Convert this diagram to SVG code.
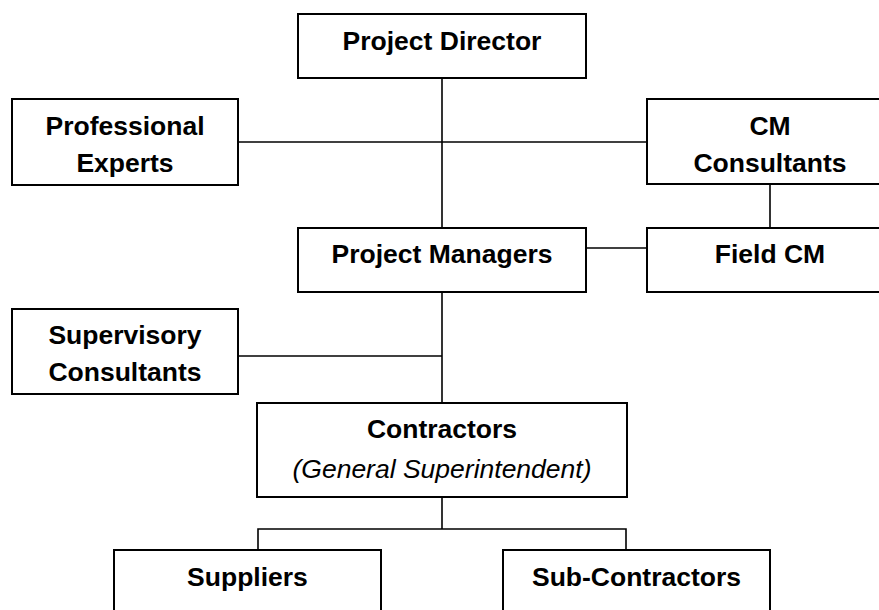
<svg xmlns="http://www.w3.org/2000/svg" width="879" height="610" viewBox="0 0 879 610">
<style>
.box{fill:#fff;stroke:#000;stroke-width:2}
.ln{fill:none;stroke:#000;stroke-width:1.6}
text{font-family:"Liberation Sans",Arial,sans-serif;font-size:26.5px;text-anchor:middle;fill:#000}
.b{font-weight:bold}
.i{font-style:italic}
</style>
<rect width="879" height="610" fill="#fff"/>
<g id="connectors">
<line class="ln" x1="442" y1="78" x2="442" y2="228"/>
<line class="ln" x1="238" y1="142" x2="647" y2="142"/>
<line class="ln" x1="770" y1="184" x2="770" y2="228"/>
<line class="ln" x1="586" y1="248" x2="647" y2="248"/>
<line class="ln" x1="442" y1="292" x2="442" y2="403"/>
<line class="ln" x1="238" y1="356" x2="442" y2="356"/>
<polyline class="ln" points="442,497 442,529"/>
<polyline class="ln" points="258,550 258,529 626,529 626,550"/>
</g>
<g id="director"><rect class="box" x="298" y="14" width="288" height="64"/><text class="b" x="442" y="50">Project Director</text></g>
<g id="experts"><rect class="box" x="12" y="99" width="226" height="86"/><text class="b" x="125" y="135">Professional</text><text class="b" x="125" y="172">Experts</text></g>
<g id="cm"><rect class="box" x="647" y="99" width="246" height="85"/><text class="b" x="770" y="135">CM</text><text class="b" x="770" y="172">Consultants</text></g>
<g id="managers"><rect class="box" x="298" y="228" width="288" height="64"/><text class="b" x="442" y="263">Project Managers</text></g>
<g id="fieldcm"><rect class="box" x="647" y="228" width="246" height="64"/><text class="b" x="770" y="263">Field CM</text></g>
<g id="supervisory"><rect class="box" x="12" y="309" width="226" height="85"/><text class="b" x="125" y="344">Supervisory</text><text class="b" x="125" y="381">Consultants</text></g>
<g id="contractors"><rect class="box" x="257" y="403" width="370" height="94"/><text class="b" x="442" y="438">Contractors</text><text class="i" x="442" y="478">(General Superintendent)</text></g>
<g id="suppliers"><rect class="box" x="114" y="550" width="267" height="80"/><text class="b" x="247.5" y="586">Suppliers</text></g>
<g id="subcontractors"><rect class="box" x="503" y="550" width="267" height="80"/><text class="b" x="636.5" y="586">Sub-Contractors</text></g>
</svg>
